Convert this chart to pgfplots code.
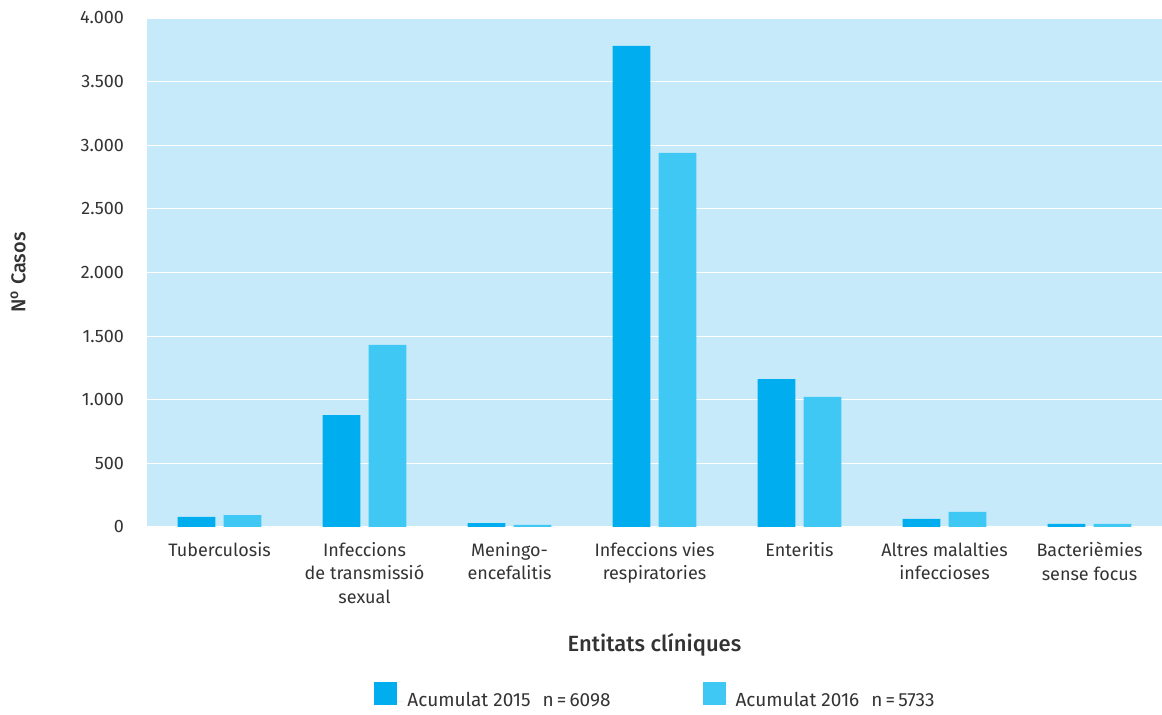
\documentclass[border=0pt]{standalone}
\usepackage{fontspec}
\setmainfont{Fira Sans}[BoldFont={Fira Sans Medium}]
\usepackage{pgfplots}
\pgfplotsset{compat=1.18}
\definecolor{c15}{HTML}{00AEEF}
\definecolor{c16}{HTML}{40C8F4}
\definecolor{bg}{HTML}{C6EAFA}
\definecolor{txt}{HTML}{333333}
\begin{document}
\begin{tikzpicture}
\path[use as bounding box] (-73.5pt,-94pt) rectangle (507.5pt,263.5pt);
\begin{axis}[
  at={(0,0)}, anchor=south west,
  scale only axis, width=507.5pt, height=254.5pt,
  xmin=-0.5, xmax=6.5, ymin=0, ymax=4000,
  axis background/.style={fill=bg},
  axis line style={draw=none},
  ytick={0,500,...,4000},
  ymajorgrids, grid style={white, line width=0.6pt},
  major tick length=0pt,
  xtick={0,...,6},
  xticklabels={Tuberculosis,{Infeccions\\de transmissió\\sexual},{Meningo-\\encefalitis},{Infeccions vies\\respiratories},Enteritis,{Altres malalties\\infeccioses},{Bacterièmies\\sense focus}},
  x tick label style={align=center, font=\fontsize{9}{11.8}\selectfont, text=txt, anchor=north, yshift=-4pt},
  y tick label style={font=\fontsize{9}{11}\selectfont, text=txt, xshift=-8pt},
  /pgf/number format/assume math mode=true,
  /pgf/number format/.cd, 1000 sep={.}, /pgfplots/.cd,
  xlabel={Entitats clíniques},
  xlabel style={at={(axis description cs:0.5,0)}, anchor=center, yshift=-59pt, font=\fontsize{11}{13}\selectfont\bfseries, text=txt},
  ylabel={N\textsuperscript{o} Casos},
  ylabel style={at={(axis description cs:0,0.5)}, anchor=center, yshift=64.5pt, font=\fontsize{10}{12}\selectfont\bfseries, text=txt},
  ybar, bar width=0.26,
  legend style={at={(0.502,-0.336)}, anchor=center, draw=none, fill=none,
    legend columns=2, font=\fontsize{9.5}{11}\selectfont, text=txt,
    /tikz/every even column/.append style={column sep=44pt}},
  legend image code/.code={\fill[#1] (0pt,-2pt) rectangle (11.5pt,9.5pt); \path (0pt,0pt) -- (14.5pt,0pt);},
]
\addplot[fill=c15, draw=none, bar shift=-0.158] coordinates {(0,80) (1,880) (2,31) (3,3781) (4,1163) (5,63) (6,24)};
\addplot[fill=c16, draw=none, bar shift=0.158] coordinates {(0,94) (1,1431) (2,16) (3,2940) (4,1022) (5,118) (6,24)};
\legend{Acumulat 2015\hspace{6pt}n{\,}={\,}6098, Acumulat 2016\hspace{6pt}n{\,}={\,}5733}
\end{axis}
\end{tikzpicture}
\end{document}
